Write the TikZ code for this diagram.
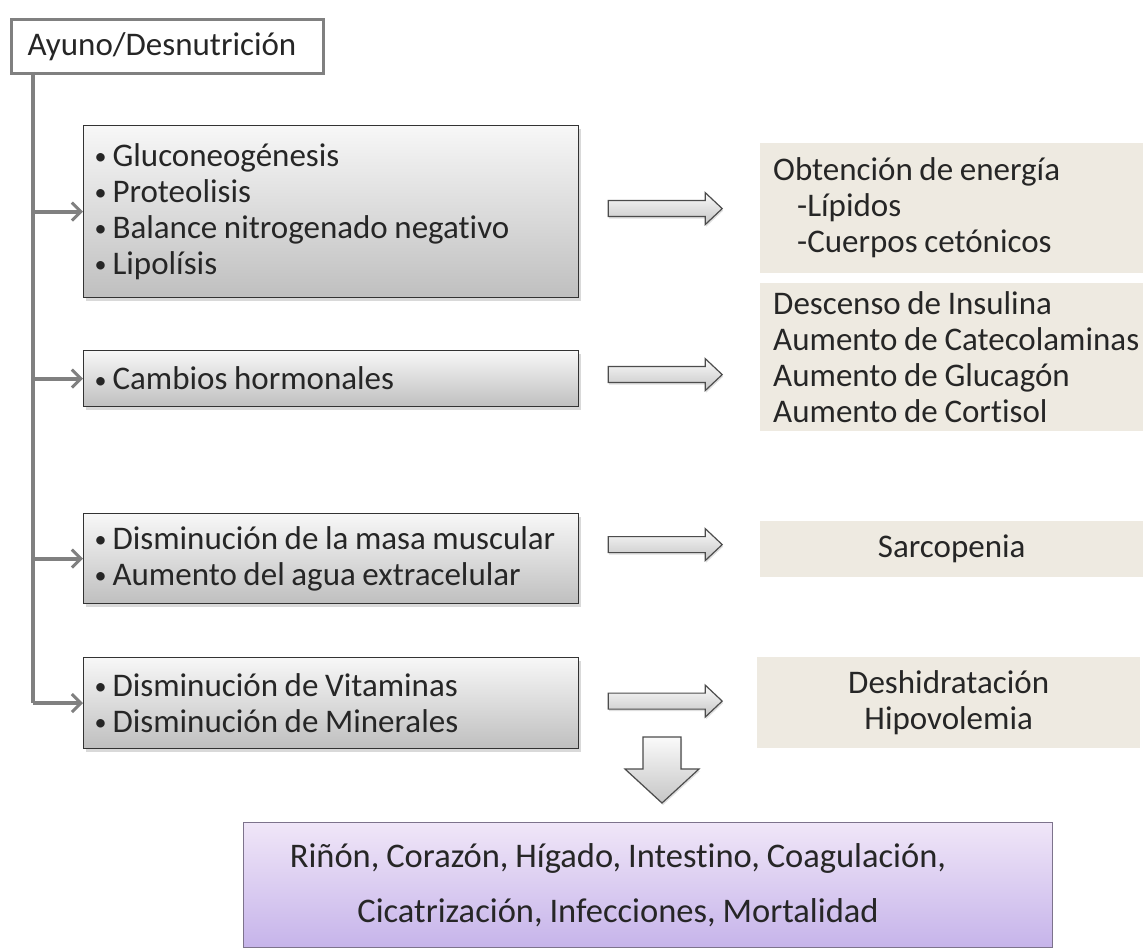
\documentclass[tikz,border=0pt]{standalone}
\usepackage{fontspec}
\setmainfont{Carlito}[Ligatures=NoCommon]
\usetikzlibrary{arrows.meta,shadows}
\hyphenpenalty=10000

\definecolor{beige}{RGB}{238,234,225}
\definecolor{lilatop}{RGB}{240,230,248}
\definecolor{lilabot}{RGB}{198,180,234}
\definecolor{lilaline}{RGB}{125,115,140}
\newcommand{\bul}{\raisebox{1.5pt}{\fontsize{24}{24}\selectfont\textbullet}\hspace{6pt}}

\begin{document}
\begin{tikzpicture}[x=1pt,y=-1pt,
	every node/.style={font=\fontsize{33}{36}\selectfont, text=black!85,
		execute at begin node={\spaceskip=0.2em\relax}},
	topbox/.style={draw=gray, line width=3pt, fill=white, anchor=north west,
		minimum width=312pt, minimum height=54pt, text width=280pt, inner xsep=16pt, align=left},
	graybox/.style={draw=black!80, line width=1.2pt, top color=gray!6, bottom color=gray!50,
		drop shadow={opacity=0.3, shadow xshift=2pt, shadow yshift=-3pt},
		anchor=north west, minimum width=495pt, text width=473pt, inner xsep=11pt, align=left},
	resbox/.style={fill=beige, anchor=north west, minimum width=383pt, text width=370pt,
		inner xsep=13pt, align=left},
	endbox/.style={draw=lilaline, line width=1pt, top color=lilatop, bottom color=lilabot,
		anchor=north west, minimum width=809pt, minimum height=125pt},
	endtext/.style={align=center, font=\fontsize{34.5}{55}\selectfont},
	trunk/.style={draw=gray, line width=4pt},
	branch/.style={draw=gray, line width=4pt, -{Straight Barb[length=9pt, width=18pt, line width=3pt]}},
	blockarrow/.style={draw=black!70, line width=1.2pt, top color=gray!4, bottom color=gray!45,
		drop shadow={opacity=0.25, shadow xshift=1pt, shadow yshift=-2pt}}
	]
\useasboundingbox (0,0) rectangle (1143,949);

% causa
\node[topbox] (ayuno) at (10,18) {Ayuno/Desnutrición};

% cambios
\node[graybox, minimum height=172pt] (b1) at (83,125)
	{\bul Gluconeogénesis\\ \bul Proteolisis\\ \bul Balance nitrogenado negativo\\ \bul Lipolísis};
\node[graybox, minimum height=56pt] (b2) at (83,350) {\bul Cambios hormonales};
\node[graybox, minimum height=90pt] (b3) at (83,513)
	{\bul Disminución de la masa muscular\\ \bul Aumento del agua extracelular};
\node[graybox, minimum height=91pt] (b4) at (83,657)
	{\bul Disminución de Vitaminas\\ \bul Disminución de Minerales};

% consecuencias
\node[resbox, minimum height=130pt] (r1) at (760,143)
	{Obtención de energía\\ \hspace{24pt}-Lípidos\\ \hspace{24pt}-Cuerpos cetónicos};
\node[resbox, minimum height=148pt] (r2) at (760,283)
	{Descenso de Insulina\\ Aumento de Catecolaminas\\ Aumento de Glucagón\\ Aumento de Cortisol};
\node[resbox, minimum height=56pt, text width=357pt, align=center] (r3) at (760,521) {Sarcopenia};
\node[resbox, minimum height=91pt, text width=357pt, align=center] (r4) at (757,657) {Deshidratación\\ Hipovolemia};

% organos
\node[endbox] (fin) at (243,822) {};
\node[endtext] (fintxt) at ([xshift=-30pt]fin.center)
	{Riñón, Corazón, Hígado, Intestino, Coagulación,\\ Cicatrización, Infecciones, Mortalidad};

% tronco y ramas
\coordinate (t0) at (33,72);
\draw[trunk] (t0) -- (t0 |- b4.west);
\foreach \b in {b1,b2,b3,b4}
	\draw[branch] (t0 |- \b.west) -- (\b.west);

% flechas gruesas
\foreach \b/\dy in {b1/-3,b2/-4,b3/-14,b4/-2}{
	\path (\b.east) ++(29,\dy) coordinate (s);
	\draw[blockarrow] (s) ++(0,-8) -- ++(97,0) -- ++(0,-8) -- ++(17,16) -- ++(-17,16)
		-- ++(0,-8) -- ++(-97,0) -- cycle;
}
\coordinate (d0) at (662,737);
\draw[blockarrow] (d0) ++(-19,0) -- ++(38,0) -- ++(0,32) -- ++(18,0) -- ++(-37,34)
	-- ++(-37,-34) -- ++(18,0) -- cycle;
\end{tikzpicture}
\end{document}
